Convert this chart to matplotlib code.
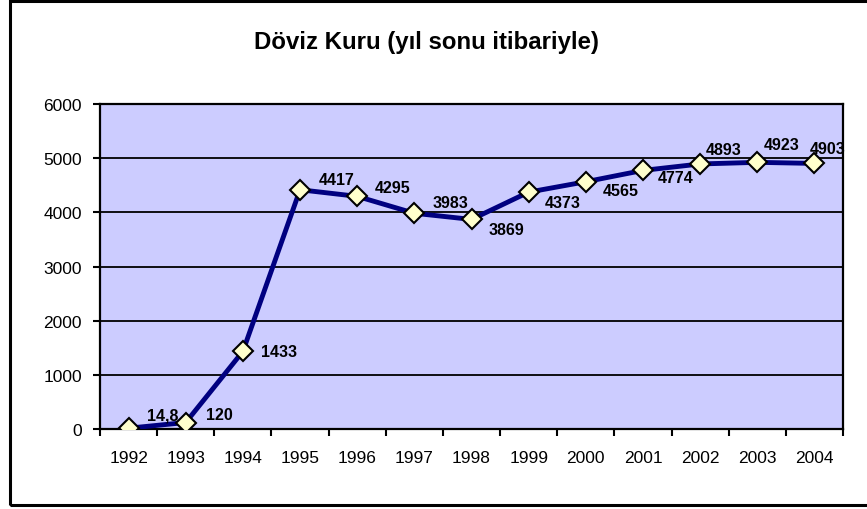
import matplotlib
matplotlib.use("Agg")
import matplotlib.pyplot as plt
from matplotlib.patches import Rectangle
import numpy as np

plt.rcParams['font.family'] = ['Liberation Sans', 'DejaVu Sans']

years = ["1992", "1993", "1994", "1995", "1996", "1997", "1998", "1999",
         "2000", "2001", "2002", "2003", "2004"]
values = [14.8, 120, 1433, 4417, 4295, 3983, 3869, 4373, 4565, 4774, 4893, 4923, 4903]
labels = ["14,8", "120", "1433", "4417", "4295", "3983", "3869", "4373",
          "4565", "4774", "4893", "4923", "4903"]
# label offsets in pixels (dx to left edge, dy up)
label_dx = [18, 20, 18, 19, 18, 18, 17, 16, 17, 15, 6, 6, -5]
label_dy = [13, 8, 0, 10, 9, 11, -10, -10, -9, -7, 14, 18, 15]
title = "Döviz Kuru (yıl sonu itibariyle)"

W, H = 867, 510
fig = plt.figure(figsize=(W / 100, H / 100), dpi=100)
fig.patch.set_facecolor("white")

# outer chart border
fig.patches.append(Rectangle((9.5 / W, 4 / H), (870 - 9.5) / W, (508.5 - 4) / H,
                             transform=fig.transFigure, fill=False,
                             edgecolor="black", linewidth=2.2, clip_on=False))

ax = fig.add_axes([100 / W, (H - 430) / H, 743 / W, 325 / H])
ax.set_facecolor("#CCCCFF")

x = np.arange(len(years))
ax.plot(x, values, color="#000080", linewidth=3.5, zorder=3,
        marker="D", markersize=10.5, markerfacecolor="#FFFFCC",
        markeredgecolor="black", markeredgewidth=1.5)

for xi, v, lab, dx, dy in zip(x, values, labels, label_dx, label_dy):
    ax.annotate(lab, (xi, v), xytext=(dx, dy), textcoords="offset pixels",
                ha="left", va="center", fontsize=11.5, fontweight="bold",
                color="black", zorder=4, annotation_clip=False)

ax.set_xlim(-0.5, len(years) - 0.5)
ax.set_ylim(0, 6000)
ax.set_yticks(np.arange(0, 6001, 1000))
ax.yaxis.grid(True, color="black", linewidth=1.3)
ax.set_axisbelow(True)

ax.set_xticks(np.arange(-0.5, len(years), 1.0))
ax.set_xticklabels([])
ax.set_xticks(x, minor=True)
ax.set_xticklabels(years, minor=True)
ax.tick_params(axis="x", which="major", direction="out", length=5, width=1.5, color="black")
ax.tick_params(axis="x", which="minor", length=0, pad=15, labelsize=12.5)
ax.tick_params(axis="y", direction="out", length=5, width=1.5, pad=8, labelsize=12.5)

for s in ax.spines.values():
    s.set_color("black")
    s.set_linewidth(1.6)

fig.text(426 / W, 1 - 43 / H, title, ha="center", va="center",
         fontsize=17.3, fontweight="bold")

fig.savefig("out.png", dpi=100)
